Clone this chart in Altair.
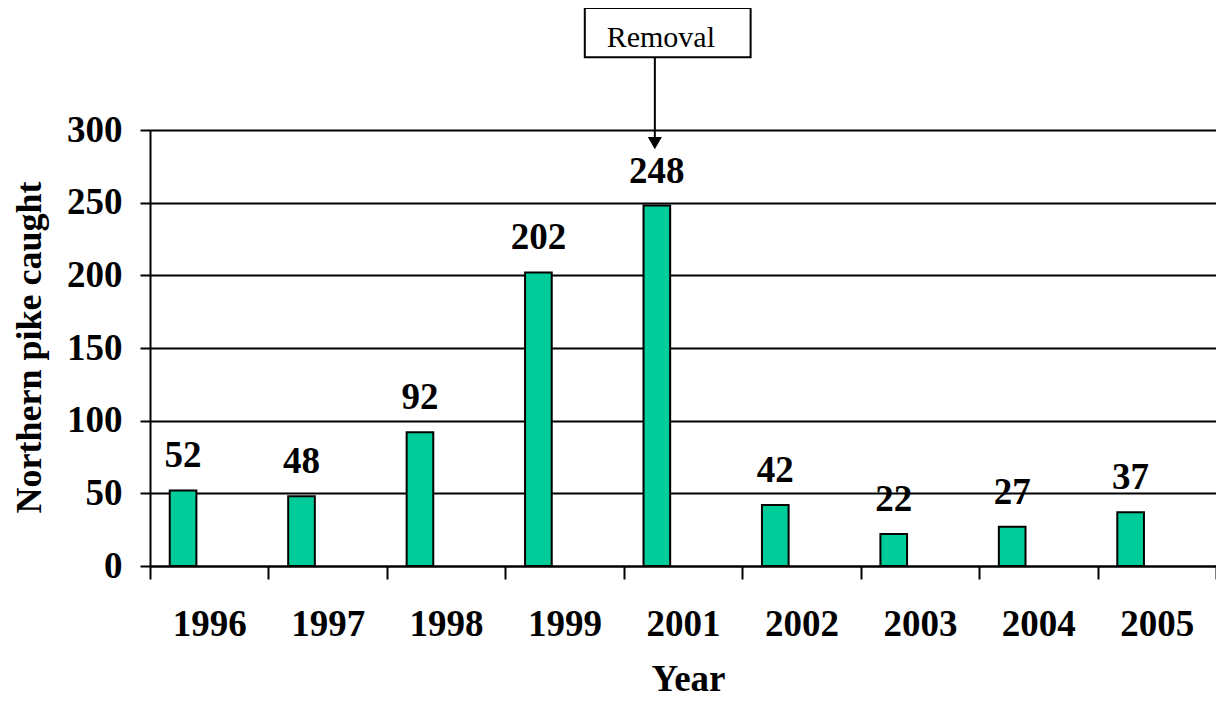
import altair as alt
import pandas as pd

# ---- data ----
years = ["1996", "1997", "1998", "1999", "2001", "2002", "2003", "2004", "2005"]
catches = [52, 48, 92, 202, 248, 42, 22, 27, 37]

ann_year = ["2001"]
ann_text = ["Removal"]
ann_box_top = [384]
ann_box_bottom = [350]
ann_text_y = [357]
ann_arrow_tip = [291]

FONT = "Liberation Serif"
W, H = 1066, 436
step = W / len(years)
bar_w = step * 27 / 120
bar_off = -step * 26.5 / 120

df = pd.DataFrame({"Year": years, "Caught": catches})
ann = pd.DataFrame({
    "Year": ann_year, "Label": ann_text, "Top": ann_box_top,
    "Bottom": ann_box_bottom, "TextY": ann_text_y, "Tip": ann_arrow_tip,
})

xscale = alt.Scale(type="band", domain=years, paddingInner=0, paddingOuter=0)
xaxis = alt.Axis(
    title="Year", titleX=538, titleY=124, titleBaseline="alphabetic", titleAlign="center",
    titleFont=FONT, titleFontSize=37, titleFontWeight="bold", titleColor="black",
    labelAngle=0, labelFont=FONT, labelFontSize=37, labelFontWeight="bold", labelColor="black",
    labelPadding=27, tickSize=13, tickWidth=2, tickColor="black", domainColor="black",
    domainWidth=2, tickBand="extent", grid=False, labelOverlap=False,
)
yscale = alt.Scale(domain=[0, 300], nice=False, zero=True)
yaxis = alt.Axis(
    title="Northern pike caught", titleX=-121, titleY=217, titleAngle=-90,
    titleAlign="center", titleBaseline="middle", titleFont=FONT, titleFontSize=36,
    titleFontWeight="bold", titleColor="black",
    values=[0, 50, 100, 150, 200, 250, 300], labelFont=FONT, labelFontSize=37,
    labelFontWeight="bold", labelColor="black", labelPadding=18, tickSize=10,
    tickWidth=2, tickColor="black", domainColor="black", domainWidth=2,
    grid=True, gridColor="black", gridWidth=2, gridOpacity=1,
)

X = alt.X("Year:N", sort=years, scale=xscale, axis=xaxis)

bars = alt.Chart(df).mark_bar(
    width=bar_w, xOffset=bar_off, color="#00CC99", stroke="black", strokeWidth=2
).encode(x=X, y=alt.Y("Caught:Q", scale=yscale, axis=yaxis))

labels = alt.Chart(df).mark_text(
    xOffset=bar_off, dy=-23, baseline="alphabetic", font=FONT, fontSize=37,
    fontWeight="bold", color="black"
).encode(x=X, y=alt.Y("Caught:Q", scale=yscale, axis=yaxis), text="Caught:Q")

box = alt.Chart(ann).mark_bar(
    width=168 * step / 120, xOffset=bar_off + 11 * step / 120, fill="white",
    stroke="black", strokeWidth=2
).encode(x=X, y=alt.Y("Top:Q", scale=yscale, axis=yaxis), y2="Bottom:Q")

arrow_line = alt.Chart(ann).mark_rule(
    xOffset=bar_off - 2, color="black", strokeWidth=2
).encode(x=X, y=alt.Y("Bottom:Q", scale=yscale, axis=yaxis), y2="Tip:Q")

arrow_head = alt.Chart(ann).mark_point(
    shape="triangle-down", filled=True, fill="black", color="black", opacity=1,
    size=200, xOffset=bar_off - 2
).encode(x=X, y=alt.Y("Tip:Q", scale=yscale, axis=yaxis))

ann_label = alt.Chart(ann).mark_text(
    xOffset=bar_off + 4, baseline="alphabetic", font=FONT, fontSize=30,
    fontWeight="normal", color="black"
).encode(x=X, y=alt.Y("TextY:Q", scale=yscale, axis=yaxis), text="Label:N")

chart = alt.layer(bars, labels, arrow_line, arrow_head, box, ann_label).properties(
    width=W, height=H,
    autosize=alt.AutoSizeParams(type="none"),
    padding={"left": 142, "top": 122, "right": 0, "bottom": 132},
    background="white",
).configure_view(stroke=None)

chart.save("out.html", embed_options={"renderer": "svg", "actions": False})
